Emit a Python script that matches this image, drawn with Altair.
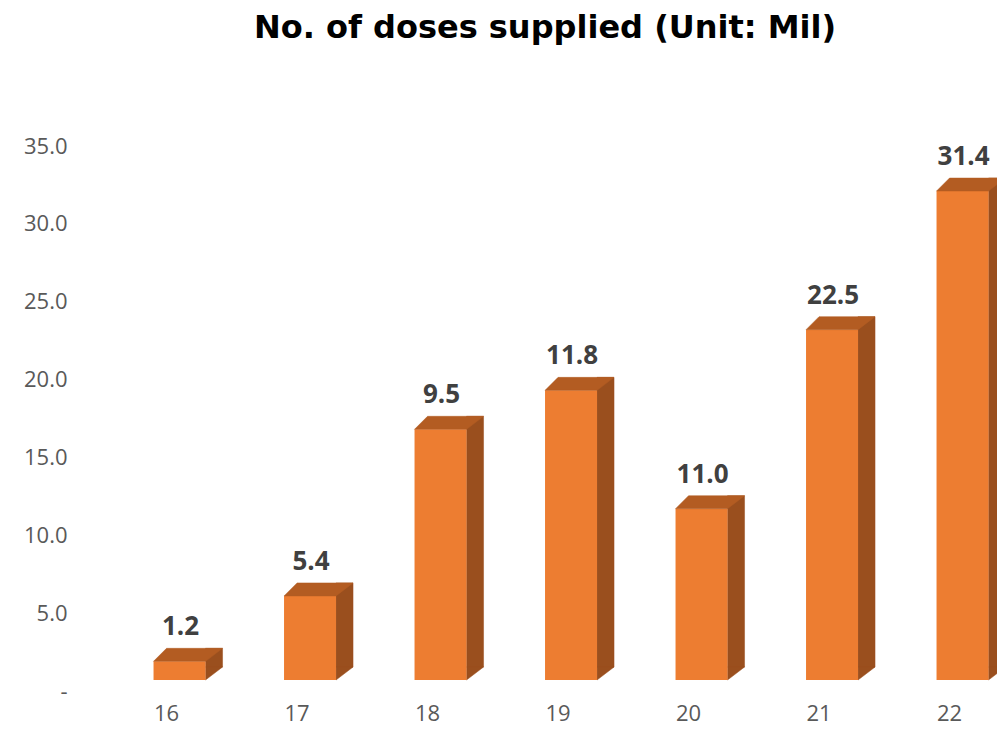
import altair as alt
import pandas as pd

years = ["16", "17", "18", "19", "20", "21", "22"]
bar_heights = [1.2, 5.4, 16.1, 18.6, 11.0, 22.5, 31.4]
label_texts = ["1.2", "5.4", "9.5", "11.8", "11.0", "22.5", "31.4"]
y_ticks = [0, 5, 10, 15, 20, 25, 30, 35]

df = pd.DataFrame({"year": years, "value": bar_heights, "label": label_texts})

FRONT = "#ED7D31"
TOP = "#B35C22"
SIDE = "#9A4F1E"

HW = 26      # half width of front face
DXL = 13     # depth offset (left back corner)
DXR = 17     # depth offset (right back corner)
DY = 13      # depth vertical

x_enc = alt.X(
    "year:N",
    sort=years,
    scale=alt.Scale(paddingInner=0.5, paddingOuter=0.2826, align=0.975),
    axis=alt.Axis(
        title=None, labelAngle=0, domain=False, ticks=False, grid=False,
        labelFont="Open Sans", labelFontSize=22, labelColor="#595959",
        labelPadding=23, labelOffset=-13,
    ),
)
y_enc = alt.Y(
    "value:Q",
    scale=alt.Scale(domain=[0, 35], nice=False, zero=True),
    axis=alt.Axis(
        title=None, values=y_ticks, domain=False, ticks=False, grid=False,
        labelExpr="datum.value == 0 ? '-' : format(datum.value, '.1f')",
        labelFont="Open Sans", labelFontSize=22, labelColor="#595959",
        labelPadding=8, labelOffset=11,
    ),
)

base = alt.Chart(df)

side = base.mark_bar(
    width=DXR, xOffset=HW + DXR / 2, yOffset=-DY, y2Offset=-DY,
    color=SIDE, stroke=SIDE, strokeWidth=0.5,
).encode(x=x_enc, y=y_enc)

side_bottom_path = f"M {HW},{-DY} L {HW},0 L {HW + DXR},{-DY} Z"
side_bottom = base.mark_point(
    shape=side_bottom_path, size=4, filled=True, opacity=1,
    color=SIDE, stroke=SIDE, strokeWidth=0.5,
).encode(x=x_enc, y=alt.datum(0))

front = base.mark_bar(width=2 * HW, color=FRONT).encode(x=x_enc, y=y_enc)

top_path = f"M {-HW},0 L {-HW + DXL},{-DY} L {HW + DXR},{-DY} L {HW},0 Z"
top = base.mark_point(
    shape=top_path, size=4, filled=True, opacity=1,
    color=TOP, stroke=TOP, strokeWidth=0.5,
).encode(x=x_enc, y=y_enc)

labels = base.mark_text(
    baseline="middle", align="center", dy=-34, dx=1,
    font="Open Sans", fontSize=26, fontWeight="bold", color="#404040",
).encode(x=x_enc, y=y_enc, text="label:N")

chart = (
    alt.layer(side, side_bottom, front, top, labels)
    .properties(
        width=922,
        height=545,
        autosize=alt.AutoSizeParams(type="none"),
        padding={"left": 67, "top": 127, "right": 0, "bottom": 46},
        title=alt.TitleParams(
            "No. of doses supplied (Unit: Mil)",
            font="DejaVu Sans", fontSize=32, fontWeight="bold", color="#000000",
            anchor="middle", frame="group", baseline="alphabetic",
            offset=65, dx=9,
        ),
    )
    .configure_view(stroke=None)
)

chart.save("out.html", embed_options={"renderer": "svg", "actions": False})
